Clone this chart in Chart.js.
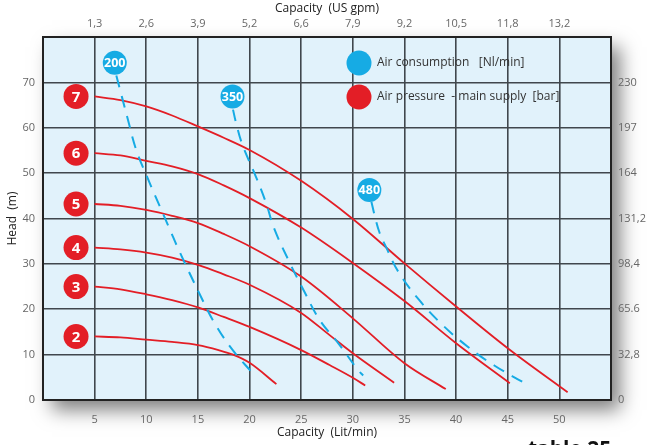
<!DOCTYPE html>
<html>
<head>
<meta charset="utf-8">
<script src="https://cdn.jsdelivr.net/npm/chart.js@4.4.1/dist/chart.umd.min.js"></script>
<style>
html, body { margin: 0; padding: 0; background: #fff; }
#wrap { width: 650px; height: 445px; position: relative; }
</style>
</head>
<body>
<div id="wrap"><canvas id="chart"></canvas></div>
<script>
// axis ticks
const gpmLabels = ['1,3', '2,6', '3,9', '5,2', '6,6', '7,9', '9,2', '10,5', '11,8', '13,2'];
const feetLabels = ['0', '32,8', '65.6', '98,4', '131,2', '164', '197', '230'];

// air pressure - main supply [bar] : capacity (Lit/min) / head (m)
const bar2Q = [5, 7.5, 10, 12.5, 15, 17, 18.4, 20, 22.6];
const bar2H = [14.0, 13.8, 13.3, 12.8, 12.1, 11.0, 10.0, 8.2, 3.5];
const bar3Q = [5, 7.5, 10, 12.5, 15, 17.5, 20, 25, 27.75, 30, 31.2];
const bar3H = [25.0, 24.4, 23.3, 22.0, 20.4, 18.3, 16.1, 11.0, 7.7, 4.9, 3.2];
const bar4Q = [5, 7.5, 10, 12.5, 15, 17.5, 20, 25, 27.75, 30, 34];
const bar4H = [33.6, 33.2, 32.5, 31.4, 29.8, 27.7, 25.4, 19.2, 14.3, 10.3, 3.8];
const bar5Q = [5, 7.5, 10, 12.5, 15, 17.5, 20, 25, 30, 35, 39];
const bar5H = [43.2, 42.8, 41.9, 40.6, 39.0, 36.6, 33.9, 27.2, 18.0, 8.1, 2.4];
const bar6Q = [5, 7.5, 10, 12.5, 15, 17.5, 20, 25, 30, 35, 40, 45.2];
const bar6H = [54.4, 53.9, 52.7, 51.5, 49.8, 47.3, 44.5, 38.0, 30.2, 21.8, 12.5, 3.7];
const bar7Q = [5, 7.5, 10, 12.5, 15, 17.5, 20, 25, 30, 35, 40, 45, 50.8];
const bar7H = [66.9, 66.1, 64.7, 62.7, 60.3, 57.8, 55.1, 48.3, 39.9, 30.1, 20.6, 11.4, 1.7];
const barNames = ['2', '3', '4', '5', '6', '7'];

// air consumption [Nl/min]
const air200Q = [7.1, 8.2, 9, 10, 12.3, 13.2, 15.2, 16.6, 18.3, 20.3];
const air200H = [71.5, 62, 55.3, 49.6, 37.5, 32.8, 23.2, 17, 11.2, 5.9];
const air350Q = [18.4, 18.7, 19.3, 20.6, 21.6, 22.4, 23.9, 25.3, 26.8, 28.6, 30.5, 31];
const air350H = [64, 61, 56.3, 49.3, 43.4, 37.7, 30.2, 23.9, 17.6, 12.5, 6.6, 5.4];
const air480Q = [31.8, 32.1, 32.6, 33.2, 34.4, 36.4, 38.7, 41.1, 43.7, 46.5];
const air480H = [43.7, 40.8, 36.8, 33.8, 28.3, 22.1, 16.5, 11.8, 7.6, 3.9];
const airNames = ['200', '350', '480'];
const airTagQ = [6.95, 18.35, 31.6];
const airTagH = [74.3, 66.9, 46.3];
const barTagQ = 3.2;

const RED = '#e31e26';
const BLUE = '#16abe4';
const FONT = "'Open Sans', 'DejaVu Sans', sans-serif";

function pts(qs, hs) {
    return qs.map((q, i) => ({ x: q, y: hs[i] }));
}

const barSets = [[bar2Q, bar2H], [bar3Q, bar3H], [bar4Q, bar4H], [bar5Q, bar5H], [bar6Q, bar6H], [bar7Q, bar7H]];
const airSets = [[air200Q, air200H], [air350Q, air350H], [air480Q, air480H]];

const datasets = [];
airSets.forEach((s, i) => {
    datasets.push({
        label: 'Air consumption ' + airNames[i],
        data: pts(s[0], s[1]),
        borderColor: BLUE,
        borderWidth: 2,
        borderDash: [12, 9],
        pointRadius: 0,
        showLine: true,
        tension: 0.4
    });
});
barSets.forEach((s, i) => {
    datasets.push({
        label: 'Air pressure ' + barNames[i],
        data: pts(s[0], s[1]),
        borderColor: RED,
        borderWidth: 1.8,
        pointRadius: 0,
        showLine: true,
        cubicInterpolationMode: 'monotone'
    });
});

// plot background with drop shadow
const plotBg = {
    id: 'plotBg',
    beforeDraw(chart) {
        const { ctx, chartArea: a } = chart;
        ctx.save();
        ctx.shadowColor = 'rgba(0,0,0,0.5)';
        ctx.shadowBlur = 18;
        ctx.shadowOffsetX = 9;
        ctx.shadowOffsetY = 10;
        ctx.fillStyle = '#e1f2fb';
        ctx.fillRect(a.left, a.top, a.width, a.height);
        ctx.restore();
    }
};

function tag(ctx, x, y, r, color, text, size) {
    ctx.beginPath();
    ctx.arc(x, y, r, 0, Math.PI * 2);
    ctx.fillStyle = color;
    ctx.fill();
    ctx.fillStyle = '#fff';
    ctx.font = 'bold ' + size + 'px ' + FONT;
    ctx.textAlign = 'center';
    ctx.textBaseline = 'middle';
    ctx.fillText(text, x, y + 1);
}

// number tags, legend and caption
const tags = {
    id: 'tags',
    afterDraw(chart) {
        const { ctx, scales: { x, y } } = chart;
        ctx.save();
        barSets.forEach((s, i) => {
            tag(ctx, x.getPixelForValue(barTagQ), y.getPixelForValue(s[1][0]), 12.5, RED, barNames[i], 15);
        });
        airNames.forEach((n, i) => {
            tag(ctx, x.getPixelForValue(airTagQ[i]), y.getPixelForValue(airTagH[i]), 12, BLUE, n, 12.5);
        });

        // legend
        const lx = 359;
        [[BLUE, 'Air consumption   [Nl/min]', 63], [RED, 'Air pressure  - main supply  [bar]', 97]].forEach(l => {
            ctx.beginPath();
            ctx.arc(lx, l[2], 12.5, 0, Math.PI * 2);
            ctx.fillStyle = l[0];
            ctx.fill();
            ctx.fillStyle = '#333';
            ctx.font = '12px ' + FONT;
            ctx.textAlign = 'left';
            ctx.textBaseline = 'middle';
            ctx.fillText(l[1], lx + 18, l[2]);
        });

        ctx.fillStyle = '#111';
        ctx.font = 'bold 21px ' + FONT;
        ctx.textAlign = 'left';
        ctx.textBaseline = 'alphabetic';
        ctx.fillText('table 25', 528, 456);
        ctx.restore();
    }
};

const tickFont = { family: FONT, size: 11 };
const titleFont = { family: FONT, size: 12 };
const gridCol = '#40474d';

new Chart(document.getElementById('chart'), {
    type: 'scatter',
    data: { datasets: datasets },
    options: {
        responsive: true,
        maintainAspectRatio: false,
        animation: false,
        events: [],
        plugins: { legend: { display: false }, tooltip: { enabled: false } },
        scales: {
            x: {
                type: 'linear', position: 'bottom', min: 0, max: 55,
                afterFit(s) { s.height = 45; },
                ticks: { stepSize: 5, padding: 13, color: '#666', font: tickFont,
                    callback: v => (v > 0 && v < 55) ? v : '' },
                grid: { color: gridCol, lineWidth: 1.6, drawTicks: false },
                border: { color: '#222', width: 2 },
                title: { display: true, text: 'Capacity  (Lit/min)', color: '#222', font: titleFont, padding: { top: 0, bottom: 5 } }
            },
            x2: {
                type: 'linear', position: 'top', min: 0, max: 55,
                afterFit(s) { s.height = 37; },
                ticks: { stepSize: 5, padding: 7, color: '#666', font: tickFont,
                    callback: v => (v > 0 && v < 55) ? gpmLabels[v / 5 - 1] : '' },
                grid: { display: false, drawTicks: false },
                border: { color: '#222', width: 2 },
                title: { display: true, text: 'Capacity  (US gpm)', color: '#222', font: titleFont, padding: { top: 1, bottom: 0 } }
            },
            y: {
                type: 'linear', position: 'left', min: 0, max: 80,
                afterFit(s) { s.width = 43; },
                ticks: { stepSize: 10, padding: 8, color: '#666', font: tickFont,
                    callback: v => v < 80 ? v : '' },
                grid: { color: gridCol, lineWidth: 1.6, drawTicks: false },
                border: { color: '#222', width: 2 },
                title: { display: true, text: 'Head  (m)', color: '#222', font: titleFont, padding: { top: 5, bottom: 0 } }
            },
            y2: {
                type: 'linear', position: 'right', min: 0, max: 80,
                afterFit(s) { s.width = 39; },
                ticks: { stepSize: 10, padding: 7, color: '#666', font: tickFont,
                    callback: v => v < 80 ? feetLabels[v / 10] : '' },
                grid: { display: false, drawTicks: false },
                border: { color: '#222', width: 2 }
            }
        }
    },
    plugins: [plotBg, tags]
});
</script>
</body>
</html>
